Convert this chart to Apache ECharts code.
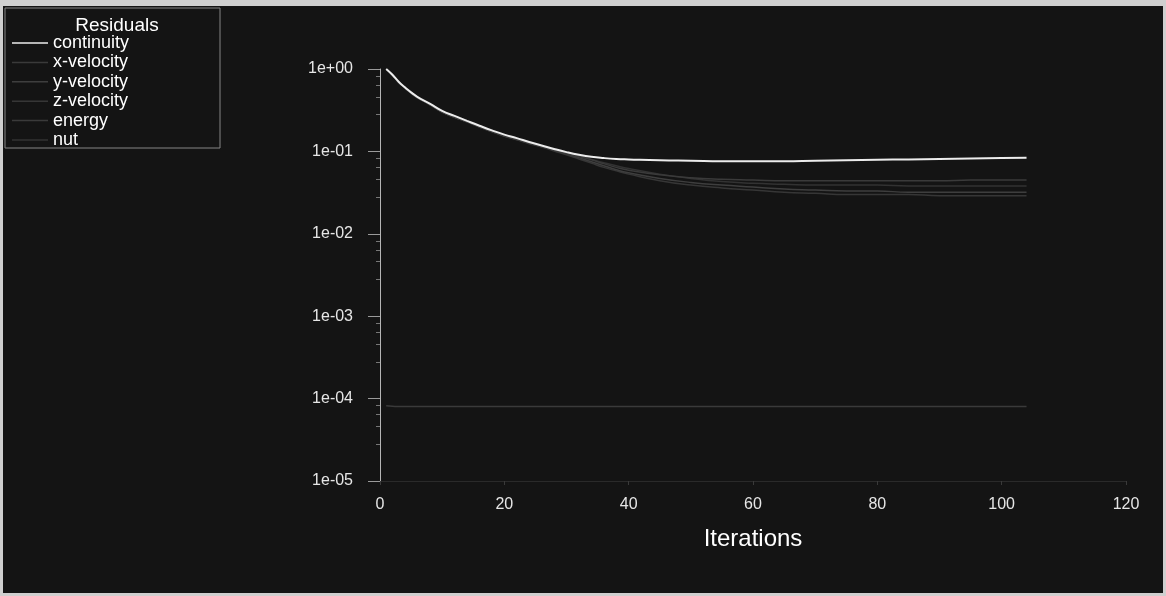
<!DOCTYPE html>
<html>
<head>
<meta charset="utf-8">
<title>Residuals</title>
<script src="https://cdn.jsdelivr.net/npm/echarts@6/dist/echarts.min.js"></script>
<style>
  html, body { margin: 0; padding: 0; background: #cfcfcf; }
  #chart { position: absolute; left: 3px; top: 6px; width: 1160px; height: 587px; }
</style>
</head>
<body>
<div id="chart"></div>
<script>
const iterations = [1, 2, 3, 4, 5, 6, 8, 10, 12, 14, 16, 18, 20, 22, 24, 26, 28, 30, 32, 34, 36, 38, 40, 45, 50, 55, 60, 65, 70, 75, 80, 85, 90, 95, 100, 104]

const continuity = [1.0, 0.85, 0.70, 0.60, 0.52, 0.46, 0.38, 0.31, 0.27, 0.235, 0.205, 0.18, 0.16, 0.145, 0.13, 0.118, 0.107, 0.098, 0.091, 0.086, 0.083, 0.081, 0.080, 0.078, 0.077, 0.076, 0.076, 0.076, 0.077, 0.078, 0.079, 0.080, 0.081, 0.082, 0.083, 0.084]
const xVelocity = [1.0, 0.84, 0.69, 0.59, 0.51, 0.45, 0.37, 0.30, 0.26, 0.23, 0.20, 0.176, 0.156, 0.141, 0.126, 0.114, 0.104, 0.095, 0.087, 0.079, 0.071, 0.064, 0.059, 0.052, 0.048, 0.046, 0.045, 0.044, 0.044, 0.044, 0.044, 0.044, 0.044, 0.045, 0.045, 0.045]
const yVelocity = [1.0, 0.84, 0.69, 0.59, 0.51, 0.45, 0.37, 0.30, 0.26, 0.228, 0.198, 0.174, 0.154, 0.139, 0.126, 0.116, 0.104, 0.094, 0.084, 0.075, 0.067, 0.060, 0.055, 0.047, 0.042, 0.039, 0.037, 0.035, 0.034, 0.033, 0.033, 0.032, 0.032, 0.032, 0.032, 0.032]
const zVelocity = [1.0, 0.84, 0.69, 0.59, 0.51, 0.45, 0.37, 0.30, 0.26, 0.228, 0.198, 0.173, 0.153, 0.138, 0.124, 0.113, 0.101, 0.091, 0.081, 0.072, 0.064, 0.058, 0.053, 0.044, 0.039, 0.036, 0.034, 0.032, 0.031, 0.030, 0.030, 0.030, 0.029, 0.029, 0.029, 0.029]
const energy = [8.2e-5, 8.1e-5, 8.0e-5, 8.0e-5, 8.0e-5, 8.0e-5, 8.0e-5, 8.0e-5, 8.0e-5, 8.0e-5, 8.0e-5, 8.0e-5, 8.0e-5, 8.0e-5, 8.0e-5, 8.0e-5, 8.0e-5, 8.0e-5, 8.0e-5, 8.0e-5, 8.0e-5, 8.0e-5, 8.0e-5, 8.0e-5, 8.0e-5, 8.0e-5, 8.0e-5, 8.0e-5, 8.0e-5, 8.0e-5, 8.0e-5, 8.0e-5, 8.0e-5, 8.0e-5, 8.0e-5, 8.0e-5]
const nut = [1.0, 0.84, 0.69, 0.59, 0.51, 0.45, 0.37, 0.30, 0.26, 0.23, 0.20, 0.176, 0.156, 0.141, 0.127, 0.115, 0.105, 0.096, 0.088, 0.080, 0.073, 0.067, 0.062, 0.053, 0.047, 0.043, 0.041, 0.040, 0.039, 0.039, 0.039, 0.038, 0.038, 0.038, 0.038, 0.038]

const seriesNames = ['continuity', 'x-velocity', 'y-velocity', 'z-velocity', 'energy', 'nut']
const seriesValues = [continuity, xVelocity, yVelocity, zVelocity, energy, nut]
const seriesColors = ['#ececec', '#3a3a3a', '#3e3e3e', '#363636', '#3a3a3a', '#323232']

const xTicks = { min: 0, max: 120, interval: 20 }

const expLabel = (v) => {
  const e = Math.round(Math.log10(v))
  const s = e < 0 ? '-' : '+'
  return '1e' + s + String(Math.abs(e)).padStart(2, '0')
}

const chart = echarts.init(document.getElementById('chart'))

const series = seriesNames.map((name, i) => ({
  name: name,
  type: 'line',
  showSymbol: false,
  symbol: 'none',
  smooth: true,
  z: i === 0 ? 5 : 2,
  lineStyle: { color: seriesColors[i], width: i === 0 ? 2 : 1.5 },
  itemStyle: { color: seriesColors[i] },
  data: iterations.map((it, k) => [it, seriesValues[i][k]]),
})).reverse()

chart.setOption({
  backgroundColor: '#141414',
  animation: false,
  textStyle: { fontFamily: 'Liberation Sans, Arial, sans-serif' },
  title: {
    text: 'Residuals',
    left: 109,
    top: 5,
    textAlign: 'center',
    textStyle: { color: '#ffffff', fontSize: 19, fontWeight: 'normal' },
  },
  graphic: [
    {
      type: 'rect',
      shape: { x: 2, y: 2, width: 215, height: 140 },
      style: { fill: 'none', stroke: '#858585', lineWidth: 1 },
      silent: true,
    },
  ],
  legend: {
    orient: 'vertical',
    left: 9,
    top: 28,
    padding: 0,
    icon: 'rect',
    itemWidth: 36,
    itemHeight: 1.5,
    itemGap: 1.4,
    selectedMode: false,
    data: seriesNames,
    textStyle: { color: '#ffffff', fontSize: 18 },
  },
  grid: { left: 377, right: 37, top: 63, bottom: 112 },
  xAxis: {
    type: 'value',
    min: xTicks.min,
    max: xTicks.max,
    interval: xTicks.interval,
    name: 'Iterations',
    nameLocation: 'middle',
    nameGap: 46,
    nameTextStyle: { color: '#ffffff', fontSize: 24 },
    axisLine: { show: true, lineStyle: { color: '#2a2a2a' } },
    axisTick: { show: true, length: 4, lineStyle: { color: '#3a3a3a' } },
    axisLabel: { color: '#e6e6e6', fontSize: 16, margin: 16 },
    splitLine: { show: false },
  },
  yAxis: {
    type: 'log',
    logBase: 10,
    min: 1e-5,
    max: 1,
    axisLine: { show: true, lineStyle: { color: '#b5b5b5' } },
    axisTick: { show: true, length: 12, lineStyle: { color: '#9a9a9a' } },
    minorTick: { show: true, splitNumber: 5, length: 4, lineStyle: { color: '#777777' } },
    axisLabel: { color: '#e6e6e6', fontSize: 16, margin: 27, formatter: expLabel },
    splitLine: { show: false },
  },
  series: series,
})
</script>
</body>
</html>
